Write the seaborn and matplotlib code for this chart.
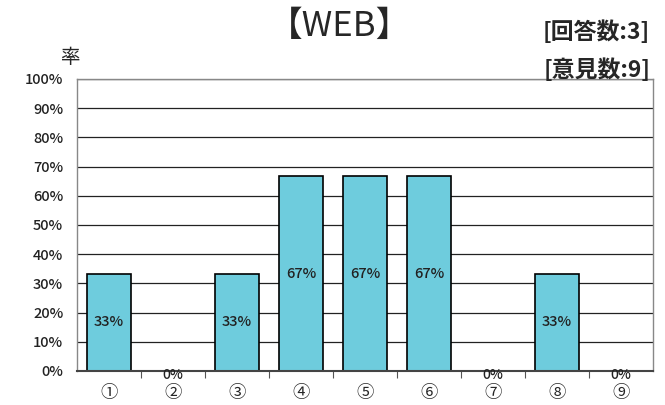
import pandas as pd
import seaborn as sns
import numpy as np
import matplotlib.pyplot as plt
from matplotlib.ticker import MultipleLocator, FixedLocator, PercentFormatter

# data
categories = ['①', '②', '③', '④', '⑤', '⑥', '⑦', '⑧', '⑨']
rates = [33.3, 0, 33.3, 66.7, 66.7, 66.7, 0, 33.3, 0]
answer_count = 3
opinion_count = 9

data = pd.DataFrame({'item': categories, 'rate': rates})

sns.set_theme(style='white')
plt.rcParams['font.family'] = ['Noto Sans CJK JP', 'DejaVu Sans']

fig = plt.figure(figsize=(6.65, 4.05), dpi=100)
ax = fig.add_axes([0.116, 0.084, 0.866, 0.721])

sns.barplot(x='item', y='rate', data=data, ax=ax, color='#6ECCDD',
            edgecolor='black', linewidth=1.2, width=0.68, saturation=1)

ax.set_ylim(0, 100)
ax.set_xlim(-0.5, len(categories) - 0.5)
ax.yaxis.set_major_locator(MultipleLocator(10))
ax.yaxis.set_major_formatter(PercentFormatter(decimals=0))
ax.grid(axis='y', color='#222222', linewidth=0.9)
ax.set_axisbelow(True)

# bar labels in the middle, zero values just under the baseline
for i, v in enumerate(rates):
    if v > 0:
        ax.text(i, v / 2, f'{v:.0f}%', ha='center', va='center', fontsize=10.5,
                color='#222222', fontweight='medium')
    else:
        ax.annotate('0%', (i, 0), xytext=(0, -3), textcoords='offset points',
                    ha='center', va='center', fontsize=10, color='#222222',
                    fontweight='medium', annotation_clip=False)

ax.set_xlabel('')
ax.set_ylabel('')
ax.tick_params(axis='y', labelsize=10.5, length=0, pad=10, labelcolor='#222222')
ax.tick_params(axis='x', which='major', length=0, labelsize=12.5, pad=9.5)
ax.xaxis.set_minor_locator(FixedLocator(np.arange(0.5, len(categories) - 0.5, 1)))
ax.tick_params(axis='x', which='minor', length=5, direction='out', color='#555555', width=0.8, bottom=True)
for lbl in ax.get_yticklabels():
    lbl.set_fontweight('medium')

for side in ['left', 'top', 'right']:
    ax.spines[side].set_color('#888888')
    ax.spines[side].set_linewidth(1)
ax.spines['bottom'].set_color('#444444')
ax.spines['bottom'].set_linewidth(1.5)

fig.text(0.51, 0.935, '【WEB】', ha='center', va='center', fontsize=25)
fig.text(0.978, 0.92, f'[回答数:{answer_count}]', ha='right', va='center', fontsize=16.5,
         fontweight='bold')
fig.text(0.978, 0.827, f'[意見数:{opinion_count}]', ha='right', va='center', fontsize=16.5,
         fontweight='bold')
fig.text(0.105, 0.858, '率', ha='center', va='center', fontsize=14)

plt.savefig('out.png', dpi=100)
